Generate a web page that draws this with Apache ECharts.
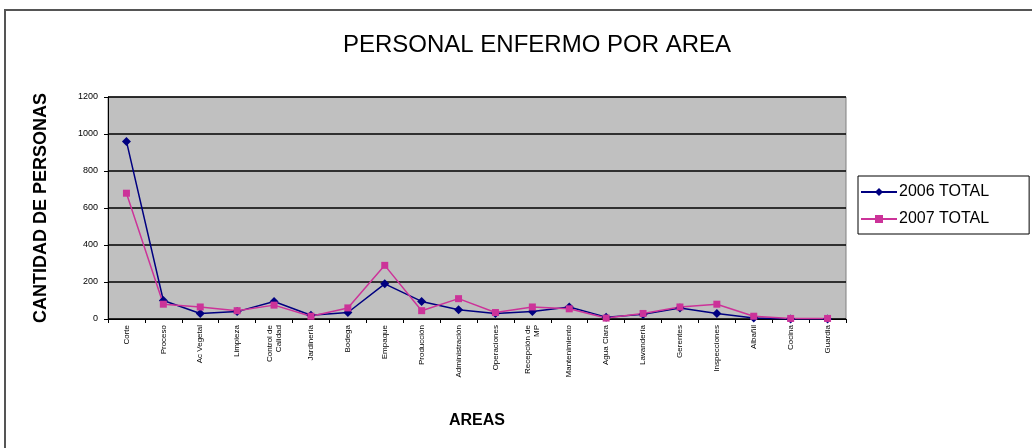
<!DOCTYPE html>
<html>
<head>
<meta charset="utf-8">
<script src="https://cdn.jsdelivr.net/npm/echarts@6/dist/echarts.min.js"></script>
<style>
  html, body { margin: 0; padding: 0; background: #fff; }
  #chart { width: 1032px; height: 448px; }
</style>
</head>
<body>
<div id="chart"></div>
<script>
// datos
const areas = ['Corte', 'Proceso', 'Ac Vegetal', 'Limpieza', 'Control de\nCalidad', 'Jardinería', 'Bodega',
  'Empaque', 'Producción', 'Administración', 'Operaciones', 'Recepción de\nMP', 'Mantenimiento',
  'Agua Clara', 'Lavandería', 'Gerentes', 'Inspecciones', 'Albañil', 'Cocina', 'Guardia']
const total2006 = [960, 100, 30, 40, 95, 20, 35, 190, 95, 50, 30, 40, 65, 10, 25, 60, 30, 5, 0, 0]
const total2007 = [680, 80, 65, 45, 75, 15, 60, 290, 45, 110, 35, 65, 55, 5, 30, 65, 80, 15, 3, 3]
const yTicks = [0, 200, 400, 600, 800, 1000, 1200]

const chart = echarts.init(document.getElementById('chart'))
const font = 'Liberation Sans, Arial, sans-serif'

chart.setOption({
  animation: false,
  title: {
    text: 'PERSONAL ENFERMO POR AREA',
    left: 532,
    textAlign: 'center',
    top: 28,
    textStyle: { fontFamily: 'Liberation Sans Narrow, Liberation Sans, sans-serif', fontSize: 24, fontWeight: 'normal', color: '#000' }
  },
  legend: {
    orient: 'vertical',
    left: 858,
    top: 176,
    itemGap: 11,
    itemWidth: 36,
    itemHeight: 10,
    padding: [8, 40, 7, 2],
    borderColor: '#000',
    borderWidth: 1,
    textStyle: { fontFamily: font, fontSize: 16, color: '#000', padding: [0, 0, 0, -3] },
    data: ['2006 TOTAL', '2007 TOTAL']
  },
  graphic: [{
    type: 'rect',
    shape: { x: 5, y: 10, width: 1040, height: 450 },
    style: { fill: 'none', stroke: '#555', lineWidth: 2 },
    z: -1
  }],
  grid: {
    left: 108, right: 186, top: 97, bottom: 129,
    show: true,
    backgroundColor: '#C0C0C0',
    borderColor: '#808080',
    borderWidth: 1
  },
  xAxis: {
    type: 'category',
    data: areas,
    boundaryGap: true,
    name: 'AREAS',
    nameLocation: 'middle',
    nameGap: 94,
    nameTextStyle: { fontFamily: font, fontSize: 16, fontWeight: 'bold', color: '#000' },
    axisLine: { lineStyle: { color: '#000' } },
    axisTick: { show: true, length: 4, lineStyle: { color: '#000' } },
    axisLabel: { interval: 0, rotate: 90, fontFamily: font, fontSize: 8, color: '#000', margin: 6, lineHeight: 9 }
  },
  yAxis: {
    type: 'value',
    min: yTicks[0],
    max: yTicks[yTicks.length - 1],
    interval: 200,
    name: 'CANTIDAD DE PERSONAS',
    nameLocation: 'middle',
    nameGap: 58,
    nameTextStyle: { fontFamily: font, fontSize: 18, fontWeight: 'bold', color: '#000' },
    axisLine: { show: true, lineStyle: { color: '#000' } },
    axisTick: { show: true, length: 4, lineStyle: { color: '#000' } },
    axisLabel: { fontFamily: font, fontSize: 9, color: '#000', margin: 10, formatter: v => String(v) },
    splitLine: { lineStyle: { color: '#000', width: 1.5 } }
  },
  series: [
    {
      name: '2006 TOTAL',
      type: 'line',
      data: total2006,
      symbol: 'diamond',
      symbolSize: 9,
      color: '#000080',
      lineStyle: { width: 1.5, color: '#000080' }
    },
    {
      name: '2007 TOTAL',
      type: 'line',
      data: total2007,
      symbol: 'rect',
      symbolSize: 7,
      color: '#CC3399',
      lineStyle: { width: 1.5, color: '#CC3399' }
    }
  ]
})
</script>
</body>
</html>
